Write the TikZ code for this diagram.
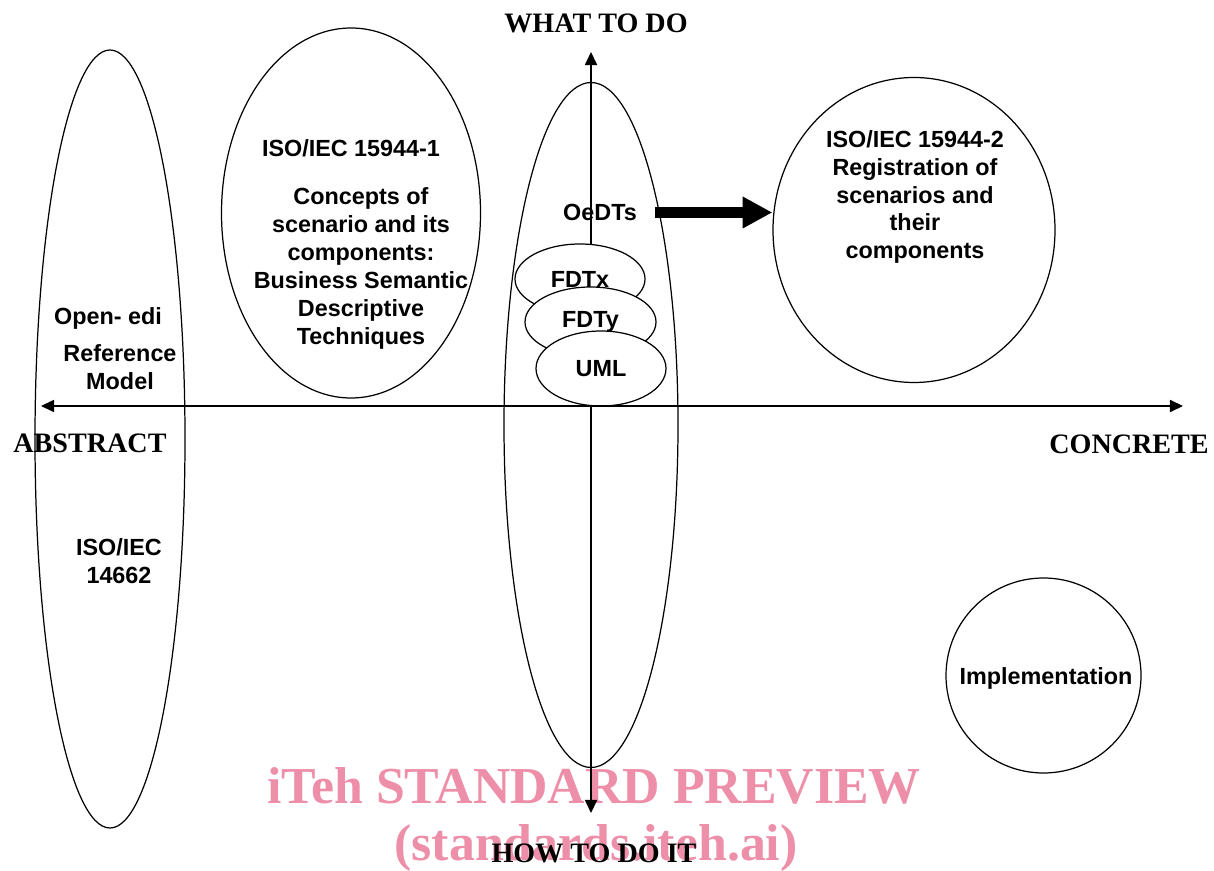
\documentclass[tikz,border=0pt]{standalone}
\usepackage{fontspec}
\setmainfont{Liberation Serif}
\setsansfont{Liberation Sans}
\usetikzlibrary{shapes.geometric,arrows.meta}
\definecolor{wmpink}{RGB}{238,143,170}

\begin{document}
\begin{tikzpicture}[
  oval/.style={draw, ellipse, line width=0.7pt, inner sep=0pt},
  lbl/.style={font=\sffamily\bfseries\fontsize{13.3}{15.9}\selectfont, align=center, inner sep=0pt},
  pole/.style={font=\rmfamily\bfseries\fontsize{16}{19}\selectfont, inner sep=0pt, anchor=base},
  wmark/.style={font=\rmfamily\bfseries\fontsize{29.5}{34}\selectfont, text=wmpink, inner sep=0pt, anchor=base},
  axis/.style={line width=0.7pt, >={Triangle[length=7.5pt,width=7pt]}, <->},
  bigarrow/.style={line width=5.7pt, -{Triangle[length=17pt,width=17pt]}}
]
\useasboundingbox (0,0) rectangle (24.28,17.4);

% watermark
\node[wmark] (wm1) at (11.88,1.34) {iTeh STANDARD PREVIEW};
\node[wmark] (wm2) at (11.92,0.2) {(standards.iteh.ai)};

% big ovals
\node[oval, minimum width=3cm, minimum height=15.56cm] (refmodel) at (2.2,8.62) {};
\node[oval, minimum width=5.18cm, minimum height=7.4cm] (concepts) at (7.02,13.14) {};
\node[oval, minimum width=3.48cm, minimum height=13.7cm] (oedt) at (11.82,8.9) {};
\node[oval, minimum width=5.64cm, minimum height=6.1cm] (reg) at (18.28,12.8) {};
\node[oval, minimum width=3.9cm, minimum height=3.9cm] (impl) at (20.87,3.89) {};

% axes
\coordinate (top) at (11.82,16.36);
\coordinate (bot) at (11.82,1.14);
\coordinate (lft) at (0.82,9.28);
\coordinate (rgt) at (23.66,9.28);
\draw[axis] (bot) -- (top);

\node[oval, fill=white, minimum width=2.6cm, minimum height=1.4cm, lbl] (fdtx) at (11.6,11.82) {FDTx};
\node[oval, fill=white, minimum width=2.62cm, minimum height=1.4cm, lbl] (fdty) at (11.81,10.96) {FDTy};
\node[oval, fill=white, minimum width=2.6cm, minimum height=1.5cm, lbl] (uml) at (12.02,10.03) {UML};

\draw[axis] (lft) -- (rgt);

% axis names
\node[pole] (what) at (11.92,16.74) {WHAT TO DO};
\node[pole] (how) at (11.88,0.16) {HOW TO DO IT};
\node[pole] (abs) at (1.8,8.34) {ABSTRACT};
\node[pole] (conc) at (22.58,8.32) {CONCRETE};

% texts in the ovals
\node[lbl] (openedi) at (2.16,11.04) {Open- edi};
\node[lbl] (refmod) at (2.4,10.06) {Reference\\Model};
\node[lbl] (iso14662) at (2.38,6.18) {ISO/IEC\\14662};
\node[lbl] (iso1) at (7.02,14.44) {ISO/IEC 15944-1};
\node[lbl] (bsdt) at (7.22,12.03) {Concepts of\\scenario and its\\components:\\Business Semantic\\Descriptive\\Techniques};
\node[lbl] (oedts) at (12.0,13.15) {OeDTs};
\node[lbl] (iso2) at (18.3,13.46) {ISO/IEC 15944-2\\Registration of\\scenarios and\\their\\components};
\node[lbl] (impltxt) at (20.92,3.84) {Implementation};

\draw[bigarrow, shorten <=0.36cm] (oedts) -- (oedts -| reg.west);
\end{tikzpicture}
\end{document}
